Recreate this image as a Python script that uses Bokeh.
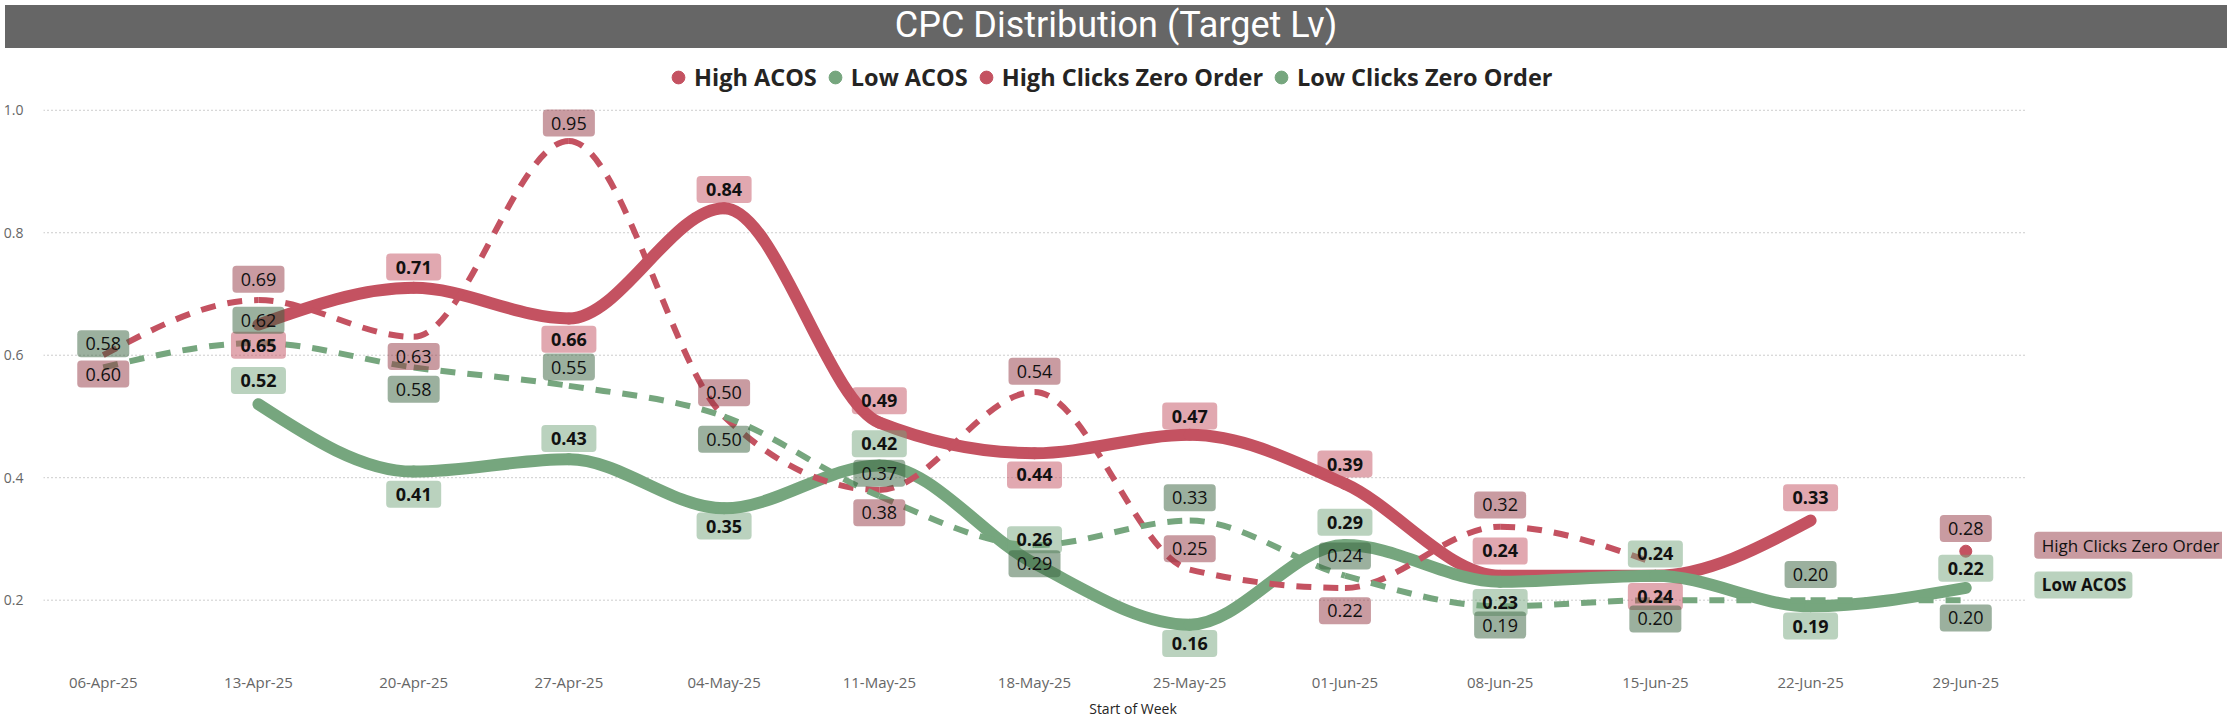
import math
from bokeh.plotting import figure
from bokeh.models import (ColumnDataSource, Range1d, FixedTicker, PrintfTickFormatter,
                          Legend, LegendItem, Div)
from bokeh.layouts import column
from bokeh.core.properties import value
from bokeh.embed import file_html
from bokeh.resources import INLINE

# ---- data ----
weeks = ["06-Apr-25", "13-Apr-25", "20-Apr-25", "27-Apr-25", "04-May-25", "11-May-25",
         "18-May-25", "25-May-25", "01-Jun-25", "08-Jun-25", "15-Jun-25", "22-Jun-25", "29-Jun-25"]
series_names = ["High ACOS", "Low ACOS", "High Clicks Zero Order", "Low Clicks Zero Order"]
high_acos = [None, 0.65, 0.71, 0.66, 0.84, 0.49, 0.44, 0.47, 0.39, 0.24, 0.24, 0.33, None]
low_acos = [None, 0.52, 0.41, 0.43, 0.35, 0.42, 0.26, 0.16, 0.29, 0.23, 0.24, 0.19, 0.22]
high_clicks_zero = [0.60, 0.69, 0.63, 0.95, 0.50, 0.38, 0.54, 0.25, 0.22, 0.32, 0.26, None, 0.28]
low_clicks_zero = [0.58, 0.62, 0.58, 0.55, 0.50, 0.37, 0.29, 0.33, 0.24, 0.19, 0.20, 0.20, 0.20]
y_ticks = [0.2, 0.4, 0.6, 0.8, 1.0]

# label placement (screen px, + = down), None = label hidden
high_acos_dy = [None, 21, -21, 21, -19, -22, 22, -19, -20, -25, 21, -23, None]
low_acos_dy = [None, -24, 23, -21, 18, -22, -24, 19, -23, 21, -22, 20, -20]
high_clicks_dy = [19, -21, 20, -18, -24, 23, -21, -21, 23, -22, None, None, -23]
low_clicks_dy = [-24, -23, 22, -19, 23, -23, 19, -23, -20, 19, 19, -26, 18]

RED = "#c45261"
GREEN = "#76a67e"
HC_LABEL = "#933743"
LC_LABEL = "#37613d"
FONT = "Open Sans"

W, H = 2222, 667
BORDER_L, BORDER_B = 36, 56
x_lo, x_hi = -0.385, 13.654
y_lo, y_hi = 0.1064, 1.0927
grid_end = 12.39
px_x = (W - BORDER_L) / (x_hi - x_lo)
px_y = (H - BORDER_B) / (y_hi - y_lo)


def sign(v):
    return (v > 0) - (v < 0)


def smooth(ys):
    """monotone-x cubic segments (like Power BI smoothed lines) + isolated points"""
    runs, cur = [], []
    for i, v in enumerate(ys):
        if v is None:
            if cur:
                runs.append(cur)
            cur = []
        else:
            cur.append((i, v))
    if cur:
        runs.append(cur)
    seg = dict(x0=[], y0=[], x1=[], y1=[], cx0=[], cy0=[], cx1=[], cy1=[])
    dots = dict(x=[], y=[])
    for run in runs:
        xs = [r[0] for r in run]
        vs = [r[1] for r in run]
        n = len(run)
        if n == 1:
            dots["x"].append(xs[0])
            dots["y"].append(vs[0])
            continue
        t = [0.0] * n
        for k in range(1, n - 1):
            h0, h1 = xs[k] - xs[k - 1], xs[k + 1] - xs[k]
            s0, s1 = (vs[k] - vs[k - 1]) / h0, (vs[k + 1] - vs[k]) / h1
            pp = (s0 * h1 + s1 * h0) / (h0 + h1)
            t[k] = (sign(s0) + sign(s1)) * min(abs(s0), abs(s1), 0.5 * abs(pp))
        if n == 2:
            t[0] = t[1] = (vs[1] - vs[0]) / (xs[1] - xs[0])
        else:
            t[0] = (3 * (vs[1] - vs[0]) / (xs[1] - xs[0]) - t[1]) / 2
            t[-1] = (3 * (vs[-1] - vs[-2]) / (xs[-1] - xs[-2]) - t[-2]) / 2
        for k in range(n - 1):
            dx = (xs[k + 1] - xs[k]) / 3
            seg["x0"].append(xs[k]); seg["y0"].append(vs[k])
            seg["x1"].append(xs[k + 1]); seg["y1"].append(vs[k + 1])
            seg["cx0"].append(xs[k] + dx); seg["cy0"].append(vs[k] + dx * t[k])
            seg["cx1"].append(xs[k + 1] - dx); seg["cy1"].append(vs[k + 1] - dx * t[k + 1])
    return seg, dots


def label_source(ys, dys):
    d = dict(x=[], y=[], text=[])
    for i, (v, dy) in enumerate(zip(ys, dys)):
        if v is None or dy is None:
            continue
        d["x"].append(i)
        d["y"].append(v - dy / px_y)
        d["text"].append("%.2f" % v)
    return ColumnDataSource(d)


p = figure(width=W, height=H, x_range=Range1d(x_lo, x_hi), y_range=Range1d(y_lo, y_hi),
           output_backend="svg", toolbar_location=None,
           min_border_left=BORDER_L, min_border_right=0, min_border_top=0, min_border_bottom=BORDER_B)
p.outline_line_color = None
p.xgrid.visible = False
p.ygrid.visible = False

# dotted horizontal gridlines, stopping short of the series end labels
p.segment(x0=[x_lo] * len(y_ticks), x1=[grid_end] * len(y_ticks), y0=y_ticks, y1=y_ticks,
          line_color="#9a9a9a", line_width=1, line_dash="1 3")

series = [
    (high_acos, RED, 12, "solid"),
    (low_acos, GREEN, 12, "solid"),
    (high_clicks_zero, RED, 6, "15 12"),
    (low_clicks_zero, GREEN, 6, "15 12"),
]
for ys, color, width, dash in series:
    seg, dots = smooth(ys)
    p.bezier(x0="x0", y0="y0", x1="x1", y1="y1", cx0="cx0", cy0="cy0", cx1="cx1", cy1="cy1",
             source=ColumnDataSource(seg), line_color=color, line_width=width, line_dash=dash,
             line_cap="round" if dash == "solid" else "butt")
    if dots["x"]:
        p.scatter(x="x", y="y", source=ColumnDataSource(dots), size=12, color=color)

# data labels: translucent rounded boxes + text
labels = [
    (high_acos, high_acos_dy, RED, "bold", 55),
    (low_acos, low_acos_dy, GREEN, "bold", 55),
    (high_clicks_zero, high_clicks_dy, HC_LABEL, "normal", 52),
    (low_clicks_zero, low_clicks_dy, LC_LABEL, "normal", 52),
]
for ys, dys, bg, style, bw in labels:
    src = label_source(ys, dys)
    p.rect(x="x", y="y", width=bw, height=27, width_units="screen", height_units="screen",
           source=src, fill_color=bg, fill_alpha=0.5, line_color=None, border_radius=4)
    p.text(x="x", y="y", text="text", source=src, text_align="center", text_baseline="middle",
           text_font=value(FONT), text_font_size="18px", text_font_style=style,
           text_color="#111111")

# series name labels at the right end
for ys, name_idx, bg, style, dy, bw in [(high_clicks_zero, 2, HC_LABEL, "normal", -6, 196),
                                        (low_acos, 1, GREEN, "bold", -3, 98)]:
    last = len(ys) - 1
    by = ys[last] - dy / px_y
    p.rect(x=[last + (69 + bw / 2) / px_x], y=[by], width=bw, height=27,
           width_units="screen", height_units="screen",
           fill_color=bg, fill_alpha=0.5, line_color=None, border_radius=4)
    p.text(x=[last], y=[by], text=[series_names[name_idx]], x_offset=76,
           text_align="left", text_baseline="middle", text_font=value(FONT),
           text_font_size="17px", text_font_style=style, text_color="#111111")

# legend
nan = float("nan")
items = []
for name, color in zip(series_names, [RED, GREEN, RED, GREEN]):
    r = p.scatter(x=[nan], y=[nan], size=12, color=color)
    items.append(LegendItem(label=name, renderers=[r]))
legend = Legend(items=items, orientation="horizontal", location=(619, 564),
                glyph_width=32, glyph_height=32, label_standoff=-4, spacing=2,
                margin=0, padding=5, border_line_color=None, background_fill_alpha=0,
                label_text_font=FONT, label_text_font_size="23.5px",
                label_text_font_style="bold", label_text_color="#252423")
p.add_layout(legend)

# axes
p.xaxis.ticker = FixedTicker(ticks=list(range(len(weeks))))
p.xaxis.major_label_overrides = {i: w for i, w in enumerate(weeks)}
p.xaxis.axis_label = "Start of Week"
p.yaxis.ticker = FixedTicker(ticks=y_ticks)
p.yaxis.formatter = PrintfTickFormatter(format="%.1f")
for ax in (p.xaxis, p.yaxis):
    ax.axis_line_color = None
    ax.major_tick_line_color = None
    ax.minor_tick_line_color = None
    ax.major_label_text_font = FONT
    ax.major_label_text_color = "#666666"
p.xaxis.major_label_text_font_size = "15px"
p.xaxis.major_label_standoff = 8
p.xaxis.axis_label_standoff = 4
p.xaxis.axis_label_text_font = FONT
p.xaxis.axis_label_text_font_size = "14px"
p.xaxis.axis_label_text_font_style = "normal"
p.xaxis.axis_label_text_color = "#252423"
p.yaxis.major_label_text_font_size = "14px"
p.yaxis.major_label_standoff = 14

title = Div(text="CPC Distribution (Target Lv)", width=W, height=43,
            styles={"background-color": "#666666", "color": "white", "font-family": "Roboto",
                    "font-size": "36px", "text-align": "center", "line-height": "40px"})

layout = column(title, p)
open("out.html", "w").write(file_html(layout, INLINE))
